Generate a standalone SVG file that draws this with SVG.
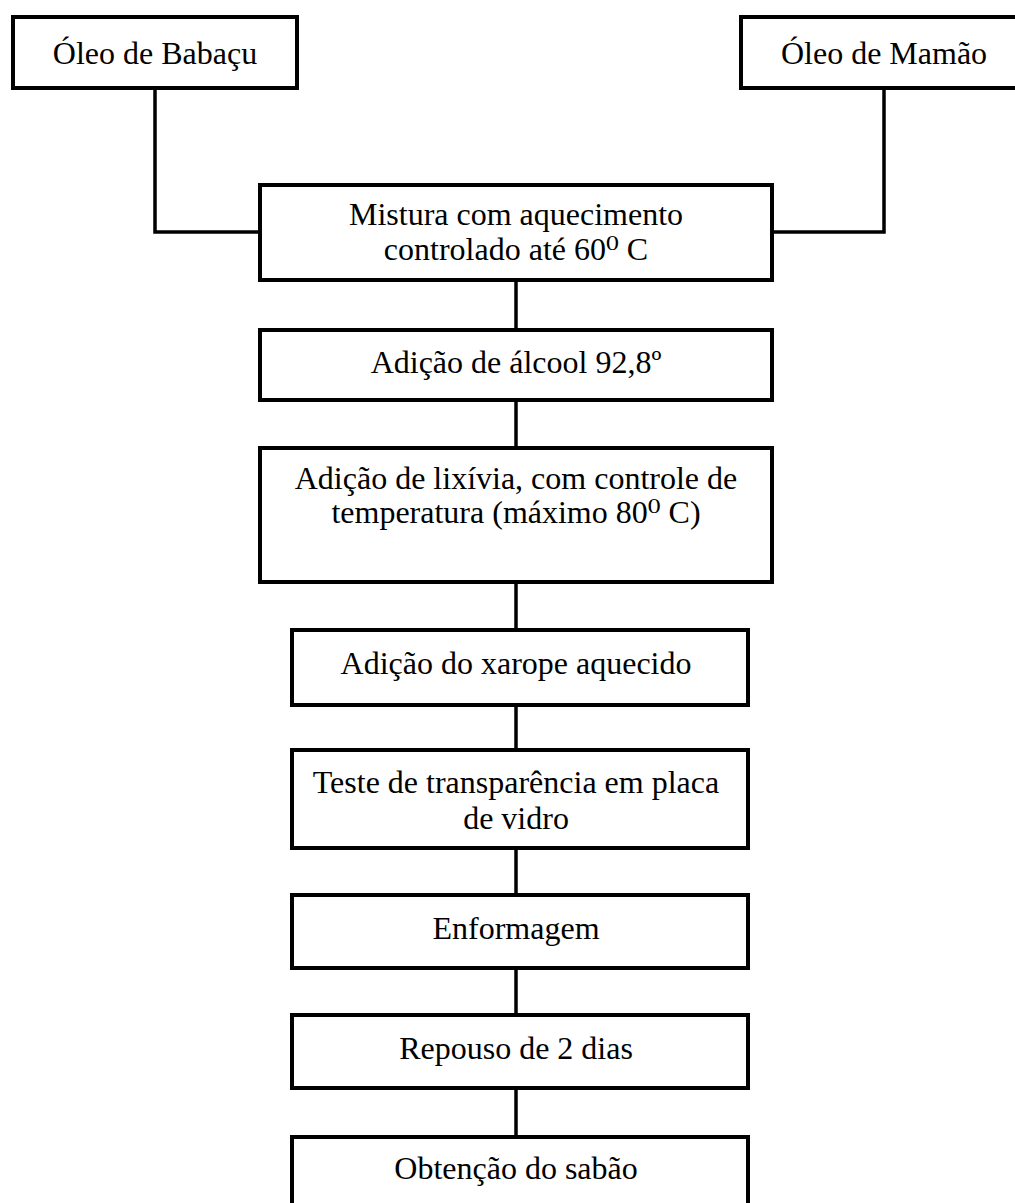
<svg xmlns="http://www.w3.org/2000/svg" width="1015" height="1203" viewBox="0 0 1015 1203">
<style>
.box{fill:#fff;stroke:#000;stroke-width:4}
.ln{fill:none;stroke:#000;stroke-width:3.5}
text{font-family:"Liberation Serif","Times New Roman","DejaVu Serif",serif;font-size:32px;fill:#000;text-anchor:middle}
</style>
<rect width="1015" height="1203" fill="#fff"/>
<g id="connectors">
<polyline class="ln" points="155,88 155,232 260,232"/>
<polyline class="ln" points="884,88 884,232 772,232"/>
<line class="ln" x1="516" y1="280" x2="516" y2="330"/>
<line class="ln" x1="516" y1="400" x2="516" y2="448"/>
<line class="ln" x1="516" y1="582" x2="516" y2="630"/>
<line class="ln" x1="516" y1="705" x2="516" y2="750"/>
<line class="ln" x1="516" y1="848" x2="516" y2="895"/>
<line class="ln" x1="516" y1="968" x2="516" y2="1015"/>
<line class="ln" x1="516" y1="1088" x2="516" y2="1137"/>
</g>
<g id="n-babacu"><rect class="box" x="13" y="17" width="284" height="71"/><text x="155" y="64">Óleo de Babaçu</text></g>
<g id="n-mamao"><rect class="box" x="741" y="17" width="290" height="71"/><text x="884" y="64">Óleo de Mamão</text></g>
<g id="n-mistura"><rect class="box" x="260" y="185" width="512" height="95"/><text x="516" y="225">Mistura com aquecimento</text><text x="516" y="260">controlado até 60⁰ C</text></g>
<g id="n-alcool"><rect class="box" x="260" y="330" width="512" height="70"/><text x="516" y="373">Adição de álcool 92,8º</text></g>
<g id="n-lixivia"><rect class="box" x="260" y="448" width="512" height="134"/><text x="516" y="489">Adição de lixívia, com controle de</text><text x="516" y="523">temperatura (máximo 80⁰ C)</text></g>
<g id="n-xarope"><rect class="box" x="292" y="630" width="456" height="75"/><text x="516" y="674">Adição do xarope aquecido</text></g>
<g id="n-teste"><rect class="box" x="292" y="750" width="456" height="98"/><text x="516" y="793">Teste de transparência em placa</text><text x="516" y="829">de vidro</text></g>
<g id="n-enformagem"><rect class="box" x="292" y="895" width="456" height="73"/><text x="516" y="939">Enformagem</text></g>
<g id="n-repouso"><rect class="box" x="292" y="1015" width="456" height="73"/><text x="516" y="1059">Repouso de 2 dias</text></g>
<g id="n-obtencao"><rect class="box" x="292" y="1137" width="456" height="80"/><text x="516" y="1179">Obtenção do sabão</text></g>
</svg>
